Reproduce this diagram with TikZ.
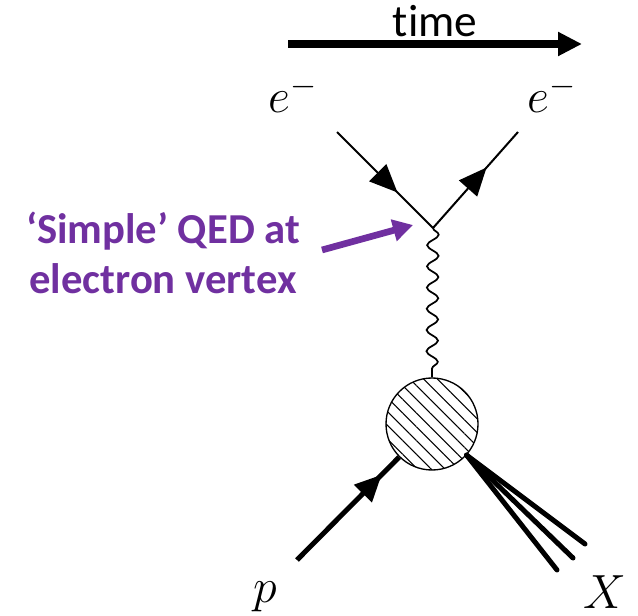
\RequirePackage{fix-cm}
\documentclass[tikz,border=0pt]{standalone}
\usepackage{fontspec}
\setmainfont{Carlito}[Ligatures=NoCommon]
\usetikzlibrary{arrows.meta,decorations.markings,decorations.pathmorphing,patterns.meta}
\definecolor{qedpurple}{RGB}{112,48,160}
\tikzset{
  fermion/.style={line width=1.5pt, postaction={decorate},
    decoration={markings, mark=at position #1 with {\arrow{Triangle[length=21pt,width=18pt]}}}},
  fermion/.default=0.63,
  hadron/.style={line width=3.75pt, postaction={decorate},
    decoration={markings, mark=at position #1 with {\arrow{Triangle[length=20pt,width=18pt]}}}},
  hadron/.default=0.83,
  photon/.style={line width=1.3pt, decorate, decoration={snake, segment length=15.9pt, amplitude=4.3pt}},
  jet/.style={line width=3.75pt, line cap=round},
  blobstyle/.style={circle, draw, line width=1pt, minimum size=69pt, inner sep=0pt,
    pattern={Lines[angle=-45, distance=7.3pt, line width=0.8pt]}},
  mathlabel/.style={font=\fontsize{36}{40}\selectfont, anchor=base, inner sep=1pt}
}
\begin{document}
\begin{tikzpicture}[x=0.75pt, y=-0.75pt]
  \useasboundingbox (0,0) rectangle (638,616);

  % Time axis
  \coordinate (tStart) at (288,44);
  \coordinate (tEnd) at (582,44);
  \draw[line width=6pt, -{Triangle[length=18pt,width=17pt]}] (tStart) -- (tEnd);
  \node[font=\fontsize{34}{40}\selectfont, anchor=base, inner sep=0pt] (timeLbl) at (435,37) {time};

  % Electron line
  \node[mathlabel] (eInLbl) at (293,113) {$e^-$};
  \node[mathlabel] (eOutLbl) at (552,113) {$e^-$};
  \coordinate (eIn) at (337,132);
  \coordinate (eOut) at (518,132);
  \coordinate (vtx) at (433,228);
  \draw[fermion] (eIn) -- (vtx);
  \draw[fermion] (vtx) -- (eOut);

  % Proton blob
  \node[blobstyle] (blob) at (432,424) {};
  \draw[photon] (vtx) -- (blob.north);

  % Incoming proton
  \coordinate (pIn) at (297,560);
  \draw[hadron] (pIn) -- (blob);
  \node[mathlabel] (pLbl) at (265,602) {$p$};

  % Hadronic final state
  \coordinate (xRoot) at (blob.-42);
  \coordinate (xOne) at (557,570);
  \coordinate (xTwo) at (573,558);
  \coordinate (xThree) at (585,544);
  \draw[jet] (xRoot) -- (xOne);
  \draw[jet] (xRoot) -- (xTwo);
  \draw[jet] (xRoot) -- (xThree);
  \node[mathlabel] (xLbl) at (605,608) {$X$};

  % Annotation
  \node[align=center, text=qedpurple, font=\bfseries\fontsize{32}{37}\selectfont] (qedLbl) at (163,253)
    {‘Simple’ QED at\\electron vertex};
  \coordinate (qedTail) at (322,250);
  \coordinate (qedTip) at (413,225);
  \draw[qedpurple, line width=5pt, -{Triangle[length=15pt,width=16pt]}] (qedTail) -- (qedTip);
\end{tikzpicture}
\end{document}
